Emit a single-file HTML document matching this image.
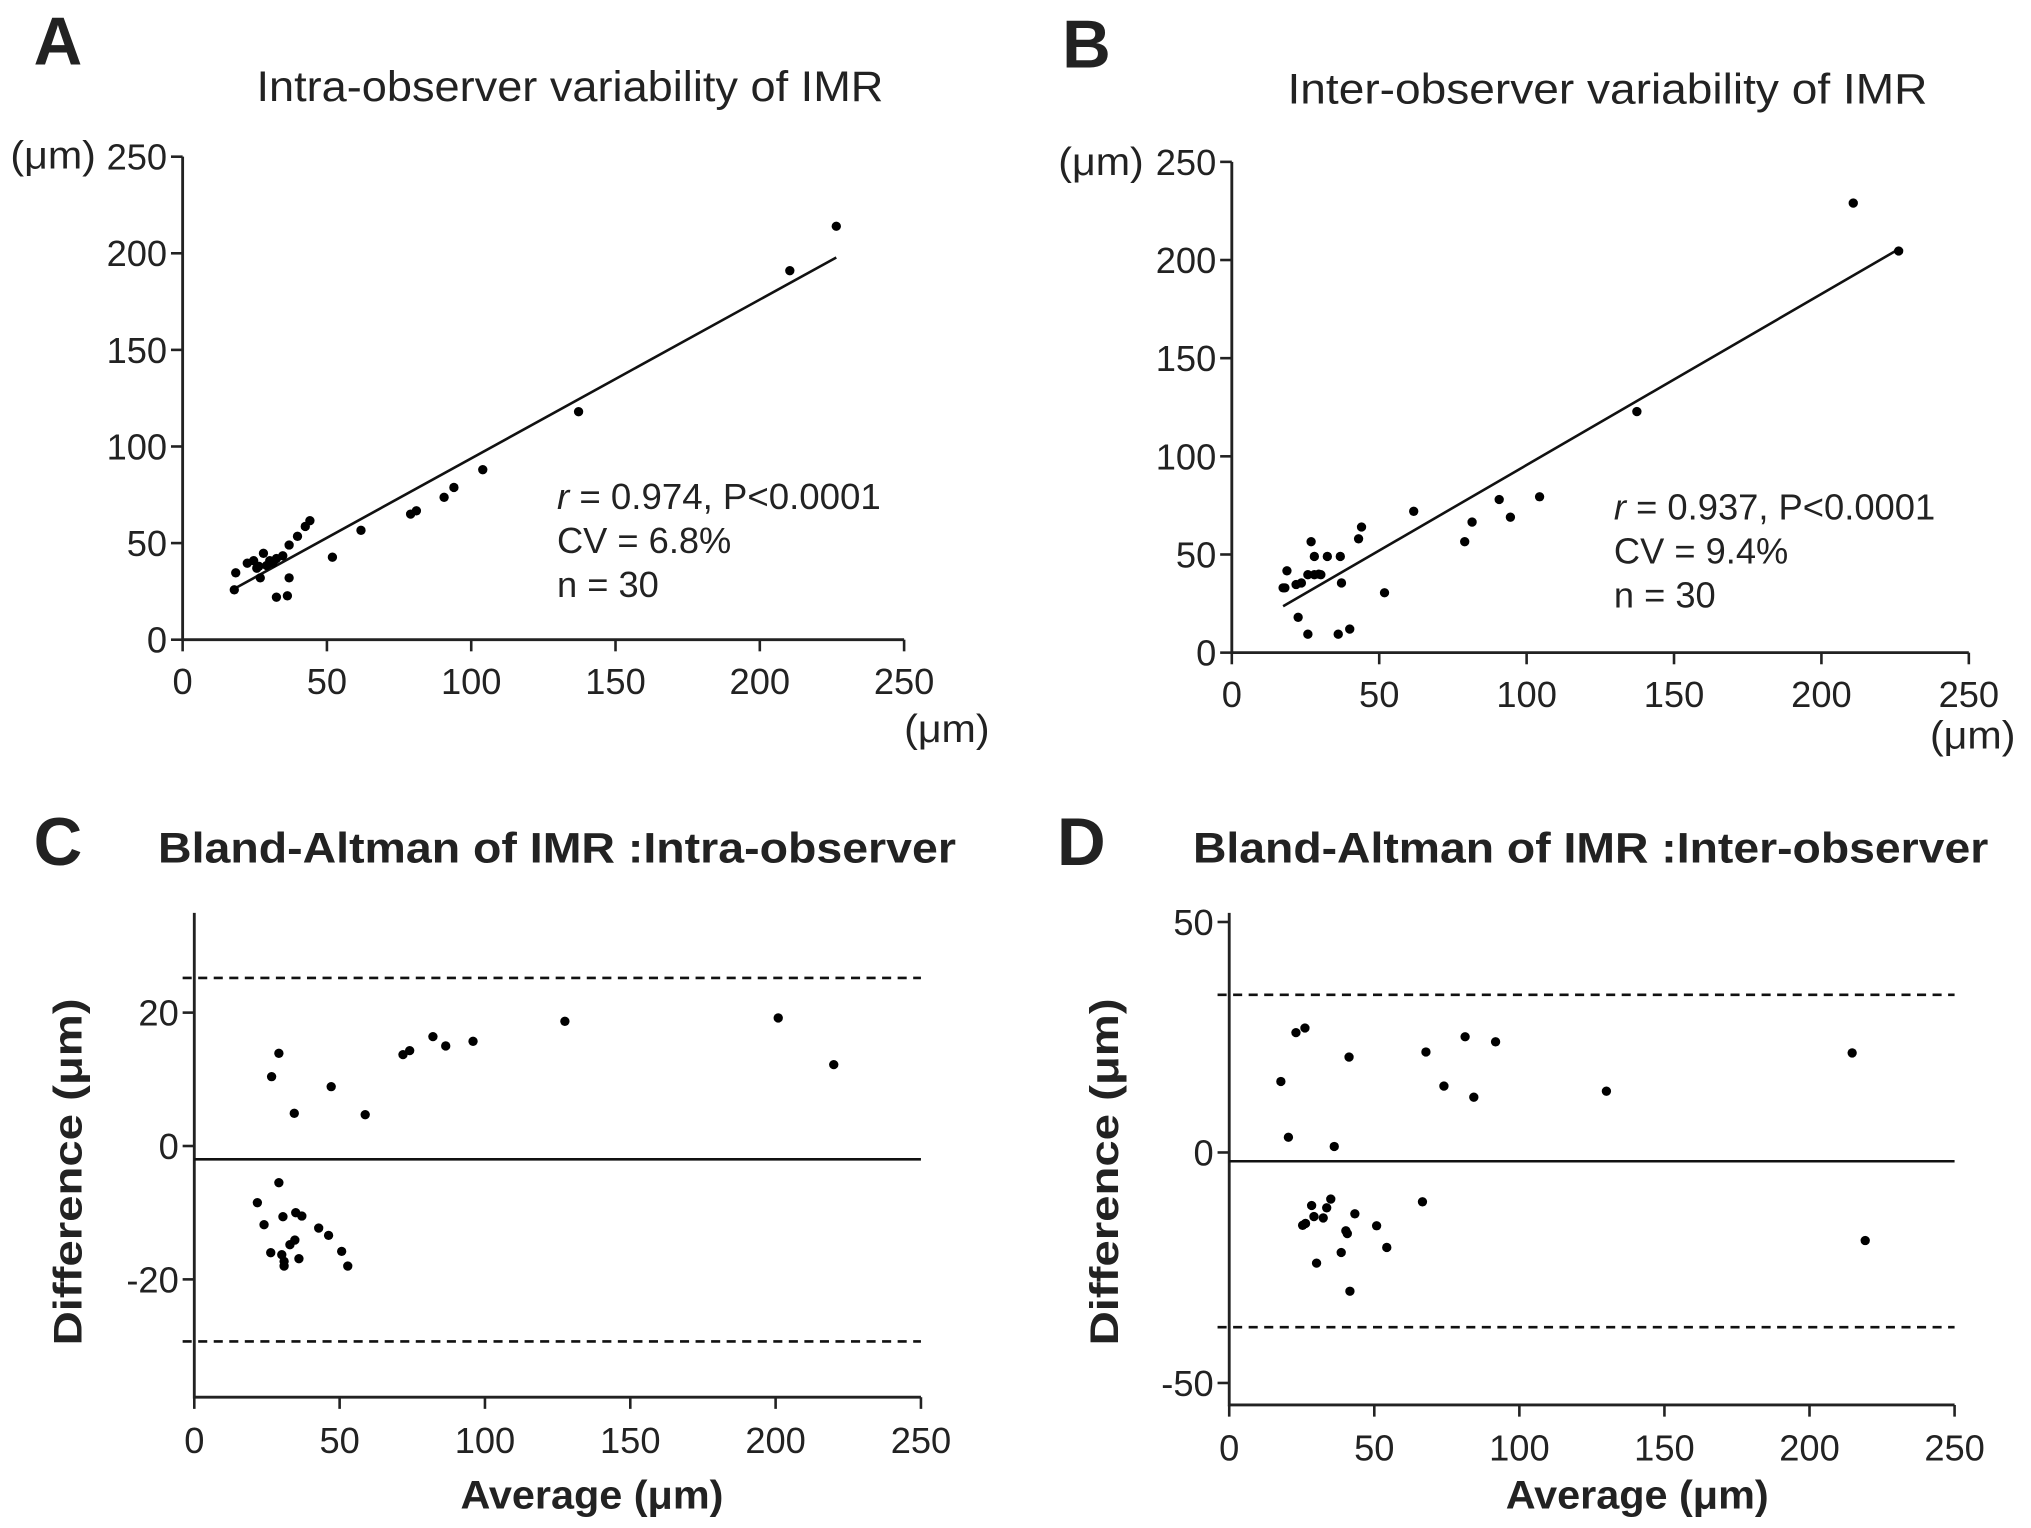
<!DOCTYPE html>
<html><head><meta charset="utf-8"><style>
html,body{margin:0;padding:0;background:#fff}
svg{display:block}
text{font-family:"Liberation Sans",sans-serif;fill:#222}
</style></head><body>
<svg id="fig" xmlns="http://www.w3.org/2000/svg" width="2031" height="1528" viewBox="0 0 1568 1180" preserveAspectRatio="none">
<rect width="1568" height="1180" fill="#fff"/>
<g id="root"></g>
</svg>
<script>
const aX = [17.9,18.4,22.4,25.7,26.9,28,30.2,32.5,26.4,36.9,39.8,42.5,44.1,32.5,36.3,36.9,51.9,61.8,79,81,90.6,94,104,137.2,210.4,226.5,24.6,34.7,29.1,31.3];
const aY = [25.8,34.6,39.6,37,32,44.7,40.9,42,38,49,53.5,58.6,61.6,22,22.7,32,42.7,56.6,65,66.7,73.7,78.8,88,118,191,214,40.9,43.4,38.4,39.6];
const bX = [18,18.7,21.8,22.5,25.8,26.9,25.8,28,30.2,28,32.4,36.8,37.2,36.1,40,43,44,51.8,61.7,79,81.5,90.7,94.5,104.4,137.4,210.8,226.2,23.6,17.4,29.5];
const bY = [33,41.7,34.7,18,9.4,56.5,39.7,39.7,39.7,49,49,49,35.5,9.4,12,58,64,30.5,72,56.5,66.5,78,69,79.4,122.8,229,204.6,35.5,33,40];
const cX = [29.1,26.6,34.4,47.1,58.8,71.8,74.1,82.1,86.5,95.9,127.5,200.9,220,29.1,21.7,24,30.5,34.9,37,42.8,46.2,50.7,52.8,26.3,30.1,30.9,30.9,36,32.9,34.6];
const cY = [13.9,10.4,4.9,8.9,4.7,13.7,14.3,16.4,15,15.7,18.7,19.2,12.2,-5.5,-8.5,-11.8,-10.6,-10,-10.5,-12.3,-13.4,-15.8,-18,-16,-16.3,-17.3,-18,-16.9,-14.8,-14.1];
const dX = [17.8,23,26.1,41.3,20.4,36.2,67.8,74,81.3,84.3,91.8,130,214.7,219.2,28.4,35,33.6,29.2,32.4,25.3,26.3,43.3,40.2,40.7,50.8,54.3,66.6,38.6,30.1,41.6];
const dY = [15.4,26,27,20.7,3.3,1.3,21.8,14.4,25.1,12,24,13.3,21.6,-19.1,-11.5,-10.1,-12,-13.9,-14.2,-15.8,-15.4,-13.3,-17,-17.6,-15.9,-20.6,-10.7,-21.7,-24,-30.1];
const sqTicks = [0,50,100,150,200,250];
const cYTicks = [20,0,-20];
const dYTicks = [50,0,-50];
const cLimits = {mean:-2.0, upper:25.2, lower:-29.3};
const dLimits = {mean:-1.9, upper:34.2, lower:-37.9};

const NS="http://www.w3.org/2000/svg";
const root=document.getElementById('root');
function el(tag,attrs,parent,txt){const e=document.createElementNS(NS,tag);for(const k in attrs)e.setAttribute(k,attrs[k]);if(txt!==undefined)e.textContent=txt;(parent||root).appendChild(e);return e;}
function lin(d0,d1,r0,r1){return v=>r0+(v-d0)/(d1-d0)*(r1-r0);}

function scatterPanel(o){
  const g=el('g',{});
  
  
  const sx=lin(0,250,o.x0,o.x1), sy=lin(0,250,o.y0,o.y1);
  let t=el('text',{x:o.lx,y:o.ly,'font-size':52,'font-weight':'bold',fill:'#000'},g,o.letter);
  
  
  t=el('text',{x:o.tx,y:o.ty,'font-size':33,'text-anchor':'middle',textLength:o.tl,lengthAdjust:'spacingAndGlyphs',fill:'#444'},g,o.title);
  
  
  const ax=el('path',{d:`M${sx(0)},${sy(250)}V${sy(0)}H${sx(250)}`,stroke:'#222','stroke-width':2.2,fill:'none'},g);
  
  
  sqTicks.forEach(v=>{
    el('line',{x1:sx(0)-9,x2:sx(0),y1:sy(v),y2:sy(v),stroke:'#222','stroke-width':2},g);
    let a=el('text',{x:sx(0)-12,y:sy(v)+10,'font-size':28,'text-anchor':'end'},g,v);
    
    
    el('line',{x1:sx(v),x2:sx(v),y1:sy(0),y2:sy(0)+9,stroke:'#222','stroke-width':2},g);
    a=el('text',{x:sx(v),y:sy(0)+42,'font-size':28,'text-anchor':'middle'},g,v);
    
    
  });
  t=el('text',{x:o.yux,y:o.yuy,'font-size':30,textLength:66,lengthAdjust:'spacingAndGlyphs'},g,'(μm)');
  
  
  t=el('text',{x:o.xux,y:o.xuy,'font-size':30,textLength:66,lengthAdjust:'spacingAndGlyphs'},g,'(μm)');
  
  
  const n=o.X.length;let mx=0,my=0;for(let i=0;i<n;i++){mx+=o.X[i];my+=o.Y[i];}mx/=n;my/=n;
  let sxy=0,sxx=0;for(let i=0;i<n;i++){sxy+=(o.X[i]-mx)*(o.Y[i]-my);sxx+=(o.X[i]-mx)**2;}
  const b=sxy/sxx,a0=my-b*mx;const xmin=Math.min(...o.X),xmax=Math.max(...o.X);
  const rl=el('line',{x1:sx(xmin),y1:sy(a0+b*xmin),x2:sx(xmax),y2:sy(a0+b*xmax),stroke:'#111','stroke-width':2},g);
  
  
  for(let i=0;i<n;i++){
    const c=el('circle',{cx:sx(o.X[i]),cy:sy(o.Y[i]),r:3.6,fill:'#000'},g);
    
    
  }
  const st=el('text',{x:o.ax,y:o.ay,'font-size':28,textLength:o.rl,lengthAdjust:'spacingAndGlyphs'},g);
  
  
  el('tspan',{'font-style':'italic'},st,'r');
  el('tspan',{},st,o.r);
  el('text',{x:o.ax,y:o.ay+34,'font-size':28},g,o.cv);
  el('text',{x:o.ax,y:o.ay+68,'font-size':28},g,'n = 30');
}

function baPanel(o){
  const g=el('g',{});
  
  
  const sx=lin(0,250,o.x0,o.x1), sy=lin(o.v0,o.v1,o.p0,o.p1);
  let t=el('text',{x:o.lx,y:o.ly,'font-size':52,'font-weight':'bold',fill:'#000'},g,o.letter);
  
  
  t=el('text',{x:o.tx,y:o.ty,'font-size':33,'font-weight':'bold','text-anchor':'middle',textLength:o.tl,lengthAdjust:'spacingAndGlyphs',fill:'#333'},g,o.title);
  
  
  const ax=el('path',{d:`M${o.x0},${o.top}V${o.bot}H${o.x1}`,stroke:'#222','stroke-width':2.2,fill:'none'},g);
  
  
  o.yt.forEach(v=>{
    el('line',{x1:o.x0-9,x2:o.x0,y1:sy(v),y2:sy(v),stroke:'#222','stroke-width':2},g);
    const a=el('text',{x:o.x0-12,y:sy(v)+10,'font-size':28,'text-anchor':'end'},g,v);
    
    
  });
  sqTicks.forEach(v=>{
    el('line',{x1:sx(v),x2:sx(v),y1:o.bot,y2:o.bot+9,stroke:'#222','stroke-width':2},g);
    const a=el('text',{x:sx(v),y:o.bot+43,'font-size':28,'text-anchor':'middle'},g,v);
    
    
  });
  let m=el('line',{x1:o.x0,x2:o.x1,y1:sy(o.lim.mean),y2:sy(o.lim.mean),stroke:'#111','stroke-width':2},g);
  
  
  m=el('line',{x1:o.x0-9,x2:o.x1,y1:sy(o.lim.upper),y2:sy(o.lim.upper),stroke:'#111','stroke-width':2,'stroke-dasharray':'7,5'},g);
  
  
  m=el('line',{x1:o.x0-9,x2:o.x1,y1:sy(o.lim.lower),y2:sy(o.lim.lower),stroke:'#111','stroke-width':2,'stroke-dasharray':'7,5'},g);
  
  
  for(let i=0;i<o.X.length;i++){
    const c=el('circle',{cx:sx(o.X[i]),cy:sy(o.Y[i]),r:3.6,fill:'#000'},g);
    
    
  }
  t=el('text',{x:o.axc,y:1165,'font-size':31,'font-weight':'bold','text-anchor':'middle',textLength:203,lengthAdjust:'spacingAndGlyphs',fill:'#333'},g,'Average (μm)');
  
  
  t=el('text',{x:0,y:0,'font-size':31,'font-weight':'bold','text-anchor':'middle',textLength:268,lengthAdjust:'spacingAndGlyphs',fill:'#333',transform:`translate(${o.ylx},905) rotate(-90)`},g,'Difference (μm)');
  
  
}

scatterPanel({name:'panel-a-intra-observer',letter:'A',lx:26,ly:50,title:'Intra-observer variability of IMR',tx:440,ty:78,tl:484,
  x0:141,x1:698,y0:494,y1:121,X:aX,Y:aY,yux:8,yuy:130,xux:698,xuy:573,ax:430,ay:393,rl:250,r:' = 0.974,  P<0.0001',cv:'CV = 6.8%'});
scatterPanel({name:'panel-b-inter-observer',letter:'B',lx:820,ly:52,title:'Inter-observer variability of IMR',tx:1241,ty:80,tl:494,
  x0:951,x1:1520,y0:504,y1:125,X:bX,Y:bY,yux:817,yuy:135,xux:1490,xuy:578,ax:1246,ay:401,rl:248,r:' = 0.937, P<0.0001',cv:'CV = 9.4%'});
baPanel({name:'panel-c-bland-altman-intra',letter:'C',lx:26,ly:668,title:'Bland-Altman of IMR :Intra-observer',tx:430,ty:666,tl:616,
  x0:150,x1:711,v0:0,v1:20,p0:885,p1:782,top:705,bot:1079,yt:cYTicks,X:cX,Y:cY,lim:cLimits,ylx:63,axc:457});
baPanel({name:'panel-d-bland-altman-inter',letter:'D',lx:816,ly:668,title:'Bland-Altman of IMR :Inter-observer',tx:1228,ty:666,tl:614,
  x0:949,x1:1509,v0:0,v1:50,p0:890,p1:712,top:705,bot:1085,yt:dYTicks,X:dX,Y:dY,lim:dLimits,ylx:863,axc:1264});
</script>
</body></html>
